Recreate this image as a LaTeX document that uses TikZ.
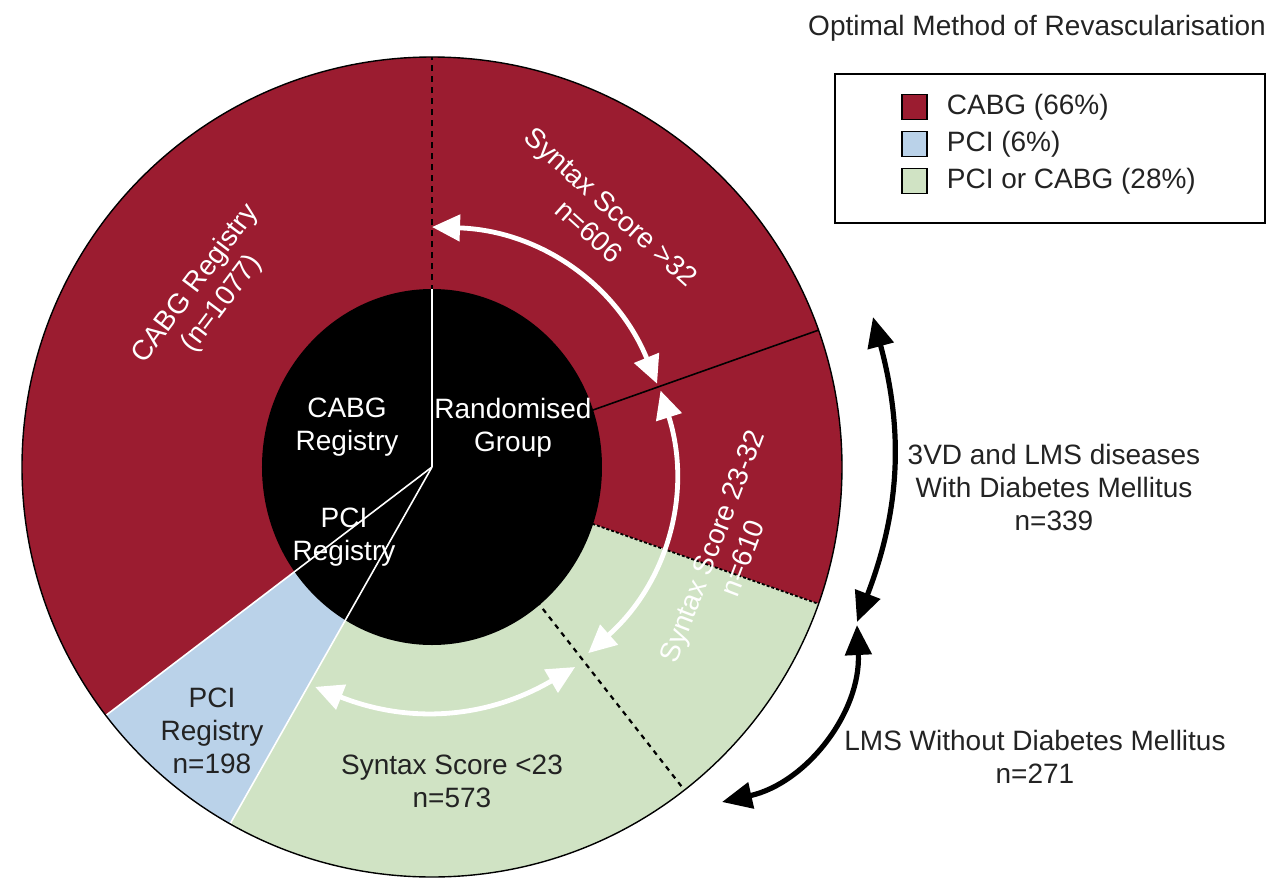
\documentclass[tikz,border=0pt]{standalone}
\usepackage{fontspec}
\setmainfont{Liberation Sans}
\usetikzlibrary{positioning, arrows.meta}
\definecolor{cabgred}{RGB}{155,28,48}
\definecolor{pciblue}{RGB}{186,210,233}
\definecolor{eithergreen}{RGB}{208,227,196}
\definecolor{darktext}{RGB}{35,35,35}

\tikzset{
  whitearrow/.style={draw=white, line width=2.4pt, arrows={Triangle[length=14pt,width=13pt]-Triangle[length=14pt,width=13pt]}},
  blackarrow/.style={draw=black, line width=2.6pt, arrows={Triangle[length=15pt,width=13pt]-Triangle[length=15pt,width=13pt]}},
  swatch/.style={draw, line width=0.8pt, minimum size=12.5pt, inner sep=0pt},
  ringtext/.style={text=white, align=center},
  darklabel/.style={text=darktext, align=center}
}

\begin{document}
\begin{tikzpicture}[x=0.5pt, y=0.5pt, font=\fontsize{14}{16.5}\selectfont]
\useasboundingbox (-432,-413) rectangle (844,467);

\fill[cabgred] (0,0) -- (-19.5:410) arc[start angle=-19.5, end angle=217.3, radius=410] -- cycle;
\fill[pciblue] (0,0) -- (217.3:410) arc[start angle=217.3, end angle=240.5, radius=410] -- cycle;
\fill[eithergreen] (0,0) -- (240.5:410) arc[start angle=240.5, end angle=340.5, radius=410] -- cycle;

\draw[line width=1pt, dash pattern=on 3pt off 2.5pt] (0,0) -- (90:410);
\draw[line width=0.8pt] (0,0) -- (19.5:410);
\draw[line width=0.9pt, dash pattern=on 1.5pt off 1pt] (0,0) -- (-19.5:410);
\draw[line width=1.1pt, dash pattern=on 2.5pt off 2.5pt] (0,0) -- (-52:410);

\fill[black] (0,0) ellipse[x radius=170, y radius=178];
\draw[white, line width=1.1pt] (0,0) -- (0,178);
\draw[white, line width=0.8pt] (0,0) -- (217.3:410);
\draw[white, line width=0.8pt] (0,0) -- (240.5:410);
\draw[line width=0.7pt] (0,0) circle[radius=410];

\node[ringtext, rotate=53] (cabgreg) at (-223,173) {CABG Registry\\(n=1077)};
\node[ringtext, rotate=-42] (highscore) at (168,248) {Syntax Score >32\\n=606};
\node[ringtext, rotate=69] (midscore) at (295,-85) {Syntax Score 23-32\\n=610};
\node[darklabel] (lowscore) at (20,-314) {Syntax Score <23\\n=573};
\node[darklabel] (pcireg) at (-220,-264) {PCI\\Registry\\n=198};

\node[ringtext] (cabgin) at (-85,40) {CABG\\Registry};
\node[ringtext] (randin) at (81,39) {Randomised\\Group};
\node[ringtext] (pciin) at (-88,-70) {PCI\\Registry};

\coordinate (hightop) at (90:240);
\coordinate (highend) at (20.3:240);
\coordinate (midtop) at (18.5:241);
\coordinate (midend) at (-50:243);
\coordinate (lowleft) at (242:249);
\coordinate (lowright) at (-54.4:246);
\draw[whitearrow] (hightop) to[bend left=33] (highend);
\draw[whitearrow] (midtop) to[bend left=33] (midend);
\draw[whitearrow] (lowleft) to[bend right=26] (lowright);

\coordinate (diabtop) at (441,150);
\coordinate (diabend) at (425,-155);
\coordinate (lmstop) at (425,-158);
\coordinate (lmsend) at (290,-335);
\draw[blackarrow] (diabtop) to[bend left=18] (diabend);
\draw[blackarrow] (lmstop) to[bend left=40] (lmsend);

\node[darklabel] (diab) at (622,-20) {3VD and LMS diseases\\With Diabetes Mellitus\\n=339};
\node[darklabel] (lms) at (603,-290) {LMS Without Diabetes Mellitus\\n=271};

\node[text=darktext] (title) at (605,439) {Optimal Method of Revascularisation};
\node[draw, line width=1pt, minimum width=215pt, minimum height=74.5pt] (legendbox) at (618,318.5) {};
\node[swatch, fill=cabgred] (swcabg) at (482.5,360) {};
\node[swatch, fill=pciblue] (swpci) at (482.5,323) {};
\node[swatch, fill=eithergreen] (sweither) at (482.5,286) {};
\node[text=darktext, right=6pt of swcabg] (lgcabg) {CABG (66\%)};
\node[text=darktext, right=6pt of swpci] (lgpci) {PCI (6\%)};
\node[text=darktext, right=6pt of sweither] (lgeither) {PCI or CABG (28\%)};
\end{tikzpicture}
\end{document}
